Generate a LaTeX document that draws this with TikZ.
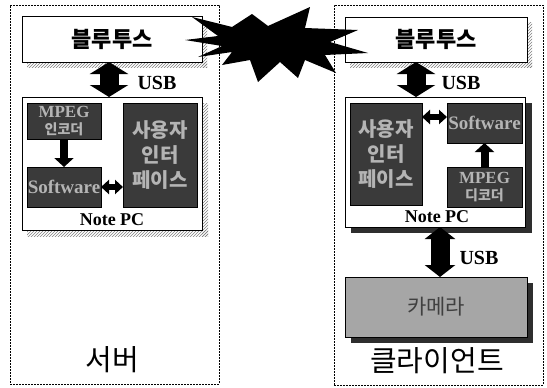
\documentclass[tikz,border=0pt]{standalone}
\usepackage{fontspec}
\setmainfont{Liberation Serif}
\newfontfamily\kr{Noto Sans CJK KR}
\usetikzlibrary{arrows.meta,patterns,positioning}
\definecolor{darkbox}{HTML}{3A3A3A}
\definecolor{intext}{HTML}{B4B4B4}
\definecolor{cambox}{HTML}{A6A6A6}
\definecolor{shadowdark}{HTML}{2E2E2E}
\tikzset{
  outerbox/.style={draw, dashed, line width=0.7pt, dash pattern=on 2pt off 1pt, anchor=north west, inner sep=0, outer sep=0},
  whitebox/.style={draw, line width=0.8pt, fill=white, anchor=north west, inner sep=0, outer sep=0},
  innerbox/.style={draw=black, line width=0.6pt, fill=darkbox, text=intext, anchor=north west, inner sep=0, outer sep=0, align=center, font=\bfseries\fontsize{19}{19}\selectfont},
  twoline/.style={font=\bfseries\fontsize{17}{17}\selectfont},
  uitext/.style={font=\kr\bfseries\fontsize{20}{25}\selectfont},
  hatch/.style={pattern=north east lines, pattern color=gray},
  bigarrow/.style={line width=19pt, {Triangle[length=12pt,width=38pt]}-{Triangle[length=12pt,width=38pt]}},
  midarrow/.style={line width=8pt, -{Triangle[length=9pt,width=19pt]}},
  sidearrow/.style={line width=6pt, {Triangle[length=8pt,width=14pt]}-{Triangle[length=8pt,width=14pt]}},
  usblabel/.style={font=\bfseries\fontsize{20}{20}\selectfont},
  pclabel/.style={font=\bfseries\fontsize{18}{18}\selectfont},
  btlabel/.style={font=\kr\bfseries\fontsize{22}{22}\selectfont},
  biglabel/.style={font=\kr\fontsize{29}{29}\selectfont},
}
\begin{document}
\begin{tikzpicture}[x=1pt,y=-1pt]
\useasboundingbox[fill=white] (0,0) rectangle (547,388);

% ---------- outer dashed boxes ----------
\node[outerbox, minimum width=209pt, minimum height=379pt] (srvbox) at (10,5) {};
\node[outerbox, minimum width=209pt, minimum height=380pt] (clibox) at (334,5) {};

% ---------- left (server) ----------
\fill[hatch] (27,62) rectangle (207,67);
\fill[hatch] (202,21) rectangle (207,67);
\node[whitebox, minimum width=180pt, minimum height=46pt, btlabel] (bt1) at (22,16) {블루투스};

\fill[hatch] (27,230) rectangle (208,236);
\fill[hatch] (202,103) rectangle (208,236);
\node[whitebox, minimum width=180pt, minimum height=133pt] (pc1) at (22,97) {};
\node[pclabel] (pc1lab) at (112,220) {Note PC};

\node[innerbox, minimum width=74pt, minimum height=36pt, twoline] (enc1) at (27,103) {MPEG\\{\kr\fontsize{14}{14}\selectfont 인코더}};
\node[innerbox, minimum width=74pt, minimum height=40pt] (sw1) at (27,167) {Software};
\node[innerbox, minimum width=74pt, minimum height=104pt, uitext] (ui1) at (123,103) {사용자\\인터\\페이스};

\draw[midarrow] (enc1.south) -- (sw1.north);
\draw[sidearrow] (sw1.east) -- (ui1.west |- sw1.east);
\draw[bigarrow] ([xshift=-3pt]bt1.south) -- ([xshift=-3pt]pc1.north);
\node[usblabel] (usb1) at (157,83) {USB};

\node[biglabel] (srvlab) at (112,360) {서버};

% ---------- right (client) ----------
\fill[hatch] (350,62) rectangle (532,67);
\fill[hatch] (527,22) rectangle (532,67);
\node[whitebox, minimum width=182pt, minimum height=45pt, btlabel] (bt2) at (345,17) {블루투스};

\fill[shadowdark] (351,227) rectangle (532,233);
\fill[shadowdark] (525,103) rectangle (532,233);
\node[whitebox, minimum width=180pt, minimum height=130pt] (pc2) at (345,97) {};
\node[pclabel] (pc2lab) at (437,217) {Note PC};

\node[innerbox, minimum width=72pt, minimum height=102pt, uitext] (ui2) at (350,103) {사용자\\인터\\페이스};
\node[innerbox, minimum width=75pt, minimum height=40pt] (sw2) at (447,103) {Software};
\node[innerbox, minimum width=75pt, minimum height=40pt, twoline] (dec2) at (447,167) {MPEG\\{\kr\fontsize{14}{14}\selectfont 디코더}};

\draw[sidearrow] ([yshift=-14pt]ui2.north east) -- ([yshift=-14pt]sw2.north west);
\draw[midarrow] (dec2.north) -- (sw2.south);
\draw[bigarrow] ([xshift=-20pt]bt2.south) -- ([xshift=-20pt]bt2.south |- pc2.north);
\node[usblabel] (usb2) at (461,83) {USB};

\fill[shadowdark] (351,337) rectangle (533,343);
\fill[shadowdark] (527,283) rectangle (533,343);
\node[draw, line width=0.6pt, fill=cambox, anchor=north west, inner sep=0, outer sep=0, minimum width=182pt, minimum height=60pt, text=black!75, font=\kr\fontsize{21}{21}\selectfont] (cam) at (345,277) {카메라};
\draw[line width=19pt, {Triangle[length=12pt,width=30pt]}-{Triangle[length=12pt,width=30pt]}] ([xshift=5pt]pc2.south) -- ([xshift=5pt]pc2.south |- cam.north);
\node[usblabel] (usb3) at (479,258) {USB};

\node[biglabel] (clilab) at (437,361) {클라이언트};

% ---------- wireless starburst ----------
\fill[black] (185,40) -- (218,36) -- (192,17) -- (232,27) -- (252,14) -- (268,26)
  -- (310,7) -- (305,28) -- (358,30) -- (330,42) -- (368,53) -- (325,55)
  -- (336,73) -- (305,60) -- (298,78) -- (280,62) -- (258,82) -- (250,60)
  -- (222,65) -- (232,52) -- (198,57) -- (222,46) -- cycle;
\end{tikzpicture}
\end{document}
